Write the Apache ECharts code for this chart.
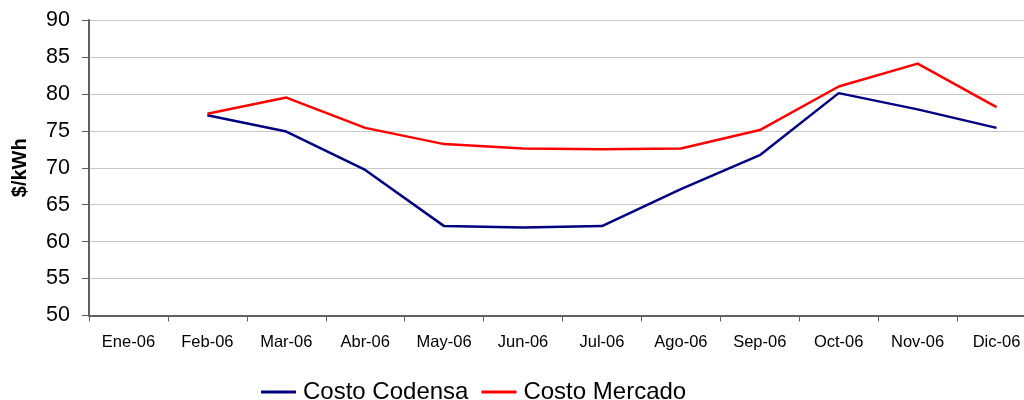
<!DOCTYPE html>
<html>
<head>
<meta charset="utf-8">
<style>
  html, body { margin: 0; padding: 0; background: #fff; }
  #chart { width: 1024px; height: 400px; }
</style>
<script src="https://cdn.jsdelivr.net/npm/echarts@6/dist/echarts.min.js"></script>
</head>
<body>
<div id="chart"></div>
<script>
// meses
var meses = ['Ene-06', 'Feb-06', 'Mar-06', 'Abr-06', 'May-06', 'Jun-06',
             'Jul-06', 'Ago-06', 'Sep-06', 'Oct-06', 'Nov-06', 'Dic-06'];

// $/kWh (Ene sin dato)
var costoCodensa = [null, 77.1, 74.9, 69.7, 62.1, 61.9, 62.1, 67.1, 71.7, 80.1, 77.9, 75.4];
var costoMercado = [null, 77.3, 79.5, 75.4, 73.2, 72.6, 72.5, 72.6, 75.1, 81.0, 84.1, 78.2];

var fuente = 'Liberation Sans, Arial, sans-serif';

var myChart = echarts.init(document.getElementById('chart'));

var option = {
    animation: false,
    grid: { left: 89, top: 20, right: -12, bottom: 84.5, containLabel: false, outerBoundsMode: 'none' },
    legend: {
        data: ['Costo Codensa', 'Costo Mercado'],
        left: 256,
        top: 375,
        icon: 'rect',
        itemWidth: 35,
        itemHeight: 3,
        itemGap: 13,
        textStyle: { fontFamily: fuente, fontSize: 24, color: '#000', padding: [0, 0, 0, 2] }
    },
    xAxis: {
        type: 'category',
        data: meses,
        boundaryGap: true,
        axisLine: { lineStyle: { color: '#606060', width: 2 } },
        axisTick: { show: true, length: 6, alignWithLabel: false, lineStyle: { color: '#606060' } },
        axisLabel: { fontFamily: fuente, fontSize: 16.5, color: '#000', margin: 18 },
        splitLine: { show: false }
    },
    yAxis: {
        type: 'value',
        min: 50,
        max: 90,
        interval: 5,
        name: '$/kWh',
        nameLocation: 'middle',
        nameGap: 59,
        nameTextStyle: { fontFamily: fuente, fontSize: 20, fontWeight: 'bold', color: '#000' },
        axisLine: { show: true, lineStyle: { color: '#606060', width: 2 } },
        axisTick: { show: true, length: 7, lineStyle: { color: '#606060' } },
        axisLabel: { fontFamily: fuente, fontSize: 21.5, color: '#000', margin: 19 },
        splitLine: { lineStyle: { color: '#c8c8c8', width: 1 } }
    },
    series: [
        {
            name: 'Costo Codensa',
            type: 'line',
            data: costoCodensa,
            symbol: 'none',
            color: '#000080',
            lineStyle: { width: 2.5, color: '#000080' }
        },
        {
            name: 'Costo Mercado',
            type: 'line',
            data: costoMercado,
            symbol: 'none',
            color: '#ff0000',
            lineStyle: { width: 2.5, color: '#ff0000' }
        }
    ]
};

myChart.setOption(option);
</script>
</body>
</html>
